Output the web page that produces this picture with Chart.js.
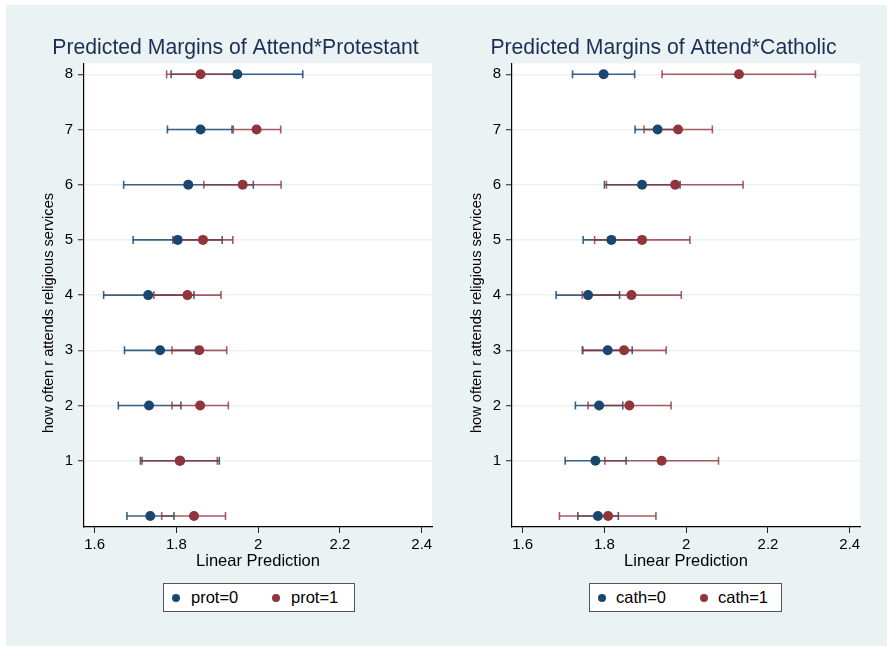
<!DOCTYPE html>
<html>
<head>
<meta charset="utf-8">
<script src="https://cdn.jsdelivr.net/npm/chart.js@4.4.1/dist/chart.umd.min.js"></script>
<style>
html,body{margin:0;padding:0;width:887px;height:646px;overflow:hidden;background:#ffffff;}
#bg{position:absolute;left:6px;top:5px;width:881px;height:641px;background:#eaf2f3;}
canvas{position:absolute;top:0;}
#c1{left:39px;}
#c2{left:467px;}
.legend{position:absolute;top:583px;height:29px;background:#fff;border:1px solid #555;box-sizing:border-box;font:16.5px "Liberation Sans",Arial,sans-serif;color:#000;}
.legend .dot{position:absolute;top:10px;width:8px;height:8px;border-radius:50%;}
.legend .txt{position:absolute;top:0;line-height:27px;white-space:nowrap;}
</style>
</head>
<body>
<div id="bg"></div>
<canvas id="c1" width="412" height="646"></canvas>
<canvas id="c2" width="412" height="646"></canvas>
<div class="legend" id="lg1" style="left:163px;width:192px;">
  <span class="dot" style="left:8px;background:#1a476f;"></span><span class="txt" style="left:27px;">prot=0</span>
  <span class="dot" style="left:108px;background:#90353b;"></span><span class="txt" style="left:127px;">prot=1</span>
</div>
<div class="legend" id="lg2" style="left:589px;width:193px;">
  <span class="dot" style="left:8px;background:#1a476f;"></span><span class="txt" style="left:26px;">cath=0</span>
  <span class="dot" style="left:110px;background:#90353b;"></span><span class="txt" style="left:128px;">cath=1</span>
</div>
<script>
// ---- data ----
const categories = [0, 1, 2, 3, 4, 5, 6, 7, 8];
const yTickValues = [1, 2, 3, 4, 5, 6, 7, 8];
const xTickValues = [1.6, 1.8, 2.0, 2.2, 2.4];

const protMean0 = [1.736, 1.809, 1.733, 1.760, 1.731, 1.803, 1.829, 1.859, 1.949];
const protLo0   = [1.679, 1.712, 1.658, 1.673, 1.622, 1.694, 1.671, 1.778, 1.787];
const protHi0   = [1.794, 1.905, 1.811, 1.847, 1.843, 1.912, 1.988, 1.936, 2.109];
const protMean1 = [1.843, 1.808, 1.858, 1.856, 1.827, 1.865, 1.962, 1.996, 1.859];
const protLo1   = [1.764, 1.716, 1.789, 1.789, 1.745, 1.791, 1.867, 1.939, 1.776];
const protHi1   = [1.920, 1.900, 1.927, 1.923, 1.909, 1.938, 2.056, 2.055, 1.941];

const cathMean0 = [1.784, 1.778, 1.787, 1.808, 1.760, 1.817, 1.892, 1.930, 1.798];
const cathLo0   = [1.735, 1.704, 1.729, 1.747, 1.682, 1.748, 1.800, 1.875, 1.722];
const cathHi0   = [1.834, 1.853, 1.845, 1.868, 1.837, 1.886, 1.985, 1.985, 1.874];
const cathMean1 = [1.809, 1.940, 1.861, 1.848, 1.866, 1.892, 1.973, 1.980, 2.129];
const cathLo1   = [1.690, 1.801, 1.760, 1.746, 1.746, 1.776, 1.805, 1.897, 1.941];
const cathHi1   = [1.926, 2.079, 1.963, 1.951, 1.988, 2.009, 2.139, 2.064, 2.316];

const title1 = 'Predicted Margins of Attend*Protestant';
const title2 = 'Predicted Margins of Attend*Catholic';
const yAxisTitle = 'how often r attends religious services';
const xAxisTitle = 'Linear Prediction';

// ---- styles ----
const BLUE = '#1a476f';
const RED = '#90353b';
const BLUE_BAR = 'rgba(26,71,111,0.85)';
const RED_BAR = 'rgba(144,53,59,0.8)';
const FONT = '"Liberation Sans", Arial, Helvetica, sans-serif';

function buildDatasets(m0, lo0, hi0, m1, lo1, hi1) {
  const ds = [];
  ds.push({
    label: 'dots1', order: 0,
    data: categories.map((c, i) => ({x: m1[i], y: c})),
    pointRadius: 5, pointBackgroundColor: RED, pointBorderColor: RED, pointBorderWidth: 0, showLine: false
  });
  ds.push({
    label: 'dots0', order: 1,
    data: categories.map((c, i) => ({x: m0[i], y: c})),
    pointRadius: 5, pointBackgroundColor: BLUE, pointBorderColor: BLUE, pointBorderWidth: 0, showLine: false
  });
  categories.forEach((c, i) => {
    ds.push({
      label: 'ci1', order: 2,
      data: [{x: lo1[i], y: c}, {x: hi1[i], y: c}],
      showLine: true, borderColor: RED_BAR, borderWidth: 1.6,
      pointStyle: 'line', rotation: 90, pointRadius: 4, pointBorderColor: RED_BAR, pointBorderWidth: 1.6
    });
  });
  categories.forEach((c, i) => {
    ds.push({
      label: 'ci0', order: 3,
      data: [{x: lo0[i], y: c}, {x: hi0[i], y: c}],
      showLine: true, borderColor: BLUE_BAR, borderWidth: 1.6,
      pointStyle: 'line', rotation: 90, pointRadius: 4, pointBorderColor: BLUE_BAR, pointBorderWidth: 1.6
    });
  });
  return ds;
}

const plotBg = {
  id: 'plotBg',
  beforeDraw(chart) {
    const {ctx, chartArea: a} = chart;
    ctx.save();
    ctx.fillStyle = '#ffffff';
    ctx.fillRect(a.left, a.top, a.right - a.left, a.bottom - a.top);
    ctx.restore();
  }
};

const yTitlePlugin = {
  id: 'yTitle',
  afterDraw(chart, args, opts) {
    const ctx = chart.ctx;
    ctx.save();
    ctx.translate(opts.x, opts.y);
    ctx.rotate(-Math.PI / 2);
    ctx.font = '14.6px ' + FONT;
    ctx.fillStyle = '#000';
    ctx.textAlign = 'center';
    ctx.textBaseline = 'middle';
    ctx.fillText(opts.text, 0, 0);
    ctx.restore();
  }
};

function makeChart(id, title, datasets) {
  return new Chart(document.getElementById(id), {
    type: 'scatter',
    data: {datasets},
    plugins: [plotBg, yTitlePlugin],
    options: {
      responsive: false,
      devicePixelRatio: 1,
      animation: false,
      layout: {padding: {top: 0, left: 0, right: 19, bottom: 0}},
      plugins: {
        legend: {display: false},
        tooltip: {enabled: false},
        title: {
          display: true, text: title, color: '#1e2d55',
          font: {size: 21.2, family: FONT, weight: 'normal'},
          padding: {top: 35.4, bottom: 2.4}
        },
        yTitle: {text: yAxisTitle, x: 9.6, y: 313}
      },
      scales: {
        x: {
          type: 'linear', min: 1.574, max: 2.425,
          afterBuildTicks: (ax) => { ax.ticks = xTickValues.map(v => ({value: v})); },
          afterFit: (ax) => { ax.height = 119; },
          ticks: {
            autoSkip: false, maxRotation: 0, color: '#000', padding: 3,
            font: {size: 15, family: FONT},
            callback: (v) => String(Math.round(v * 10) / 10)
          },
          grid: {drawOnChartArea: false, drawTicks: true, tickLength: 6, tickColor: '#222', tickWidth: 1},
          border: {display: true, color: '#000', width: 1.2},
          title: {
            display: true, text: xAxisTitle, color: '#000',
            font: {size: 16.5, family: FONT}, padding: {top: 0, bottom: 74.4}
          }
        },
        y: {
          type: 'linear', min: -0.2, max: 8.2,
          afterBuildTicks: (ax) => { ax.ticks = yTickValues.map(v => ({value: v})); },
          afterFit: (ax) => { ax.width = 45; },
          ticks: {
            autoSkip: false, color: '#000', padding: 5,
            font: {size: 15, family: FONT},
            callback: (v) => String(v)
          },
          grid: {drawOnChartArea: true, color: '#eaf2f3', lineWidth: 1.5, drawTicks: true, tickLength: 6, tickColor: '#222', tickWidth: 1},
          border: {display: true, color: '#000', width: 1.2}
        }
      }
    }
  });
}

makeChart('c1', title1, buildDatasets(protMean0, protLo0, protHi0, protMean1, protLo1, protHi1));
makeChart('c2', title2, buildDatasets(cathMean0, cathLo0, cathHi0, cathMean1, cathLo1, cathHi1));
</script>
</body>
</html>
